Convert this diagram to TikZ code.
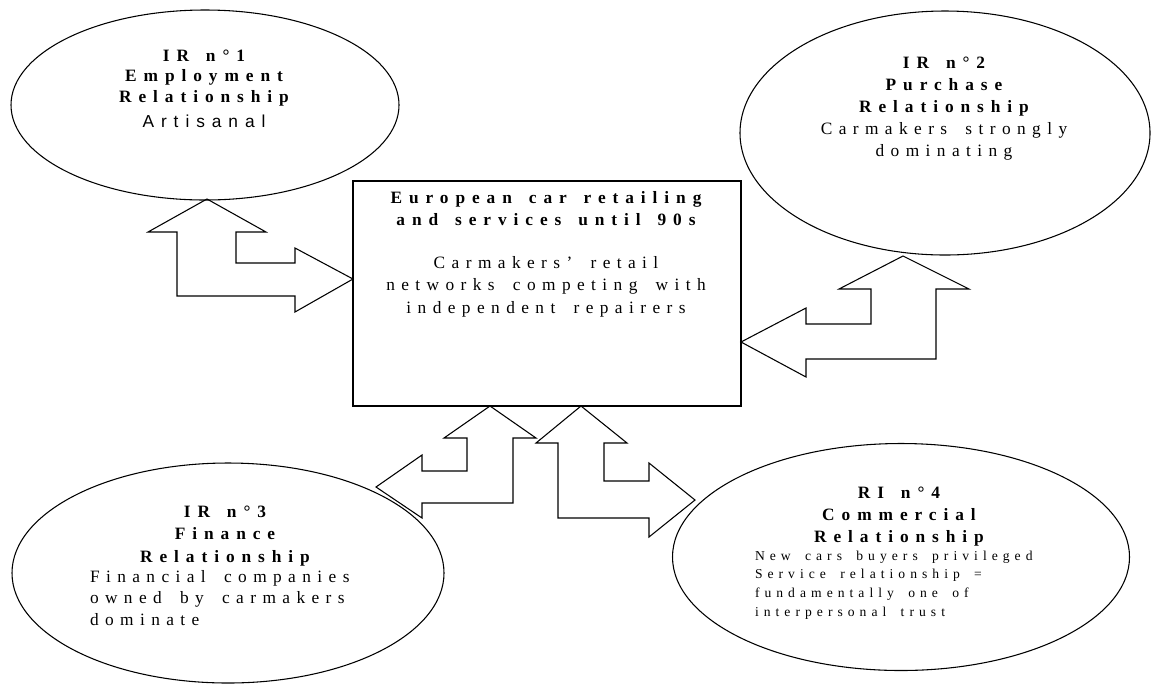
\documentclass[tikz,border=0pt]{standalone}
\usepackage{fontspec}
\setmainfont{Liberation Serif}
\newfontfamily\headfont[LetterSpace=40,WordSpace=1.5]{Liberation Serif}
\newfontfamily\bodyfont[LetterSpace=37,WordSpace=1.7]{Liberation Serif}
\newfontfamily\plainsans[LetterSpace=40]{Liberation Sans}
\usetikzlibrary{shapes.geometric}

\begin{document}
\begin{tikzpicture}[x=0.75pt,y=-0.75pt,line width=0.8pt,
  bubble/.style={ellipse,draw,inner sep=0pt,outer sep=0pt},
  hub/.style={rectangle,draw,inner sep=0pt,outer sep=0pt},
  blockarrow/.style={draw,line join=miter},
  txt/.style={inner sep=0pt,outer sep=0pt,anchor=north,align=center},
  txtl/.style={inner sep=0pt,outer sep=0pt,anchor=north west,align=left},
  hd/.style={font=\headfont\bfseries\fontsize{13}{16.5}\selectfont}]

\useasboundingbox (0,0) rectangle (1152,683);

% the four relationship bubbles and the central box
\node[bubble,minimum width=291pt,minimum height=142.5pt] (e1) at (205,105) {};
\node[bubble,minimum width=307.5pt,minimum height=183pt] (e2) at (945,133) {};
\node[bubble,minimum width=324pt,minimum height=165pt] (e3) at (228,573) {};
\node[bubble,minimum width=342.75pt,minimum height=170.25pt] (e4) at (901,557) {};
\node[hub,minimum width=291pt,minimum height=168.75pt] (hub) at (547,293.5) {};

% texts
\node[txt,font=\headfont\bfseries\fontsize{13}{15.4}\selectfont] (t1) at (204,49.5)
  {IR n°1\\Employment\\Relationship\\[3.4pt]{\plainsans\mdseries Artisanal}};

\node[txt,hd] (t2) at (944,56.5)
  {IR n°2\\Purchase\\Relationship\\{\bodyfont\mdseries Carmakers strongly}\\{\bodyfont\mdseries dominating}};

\node[txt,hd] (th) at (546,191.3)
  {European car retailing\\and services until 90s};
\node[txt,font=\bodyfont\fontsize{13}{16.9}\selectfont] (tb) at (546,256.2)
  {Carmakers’ retail\\networks competing with\\independent repairers};

\node[txt,font=\headfont\bfseries\fontsize{13}{16.9}\selectfont] (t3) at (225,505.5)
  {IR n°3\\Finance\\Relationship};
\node[txtl,font=\bodyfont\fontsize{13}{16.1}\selectfont] (b3) at (90,570.2)
  {Financial companies\\owned by carmakers\\dominate};

\node[txt,hd] (t4) at (899,486.5)
  {RI n°4\\Commercial\\Relationship};
\node[txtl,font=\bodyfont\fontsize{10.2}{14}\selectfont] (b4) at (755,550.7)
  {New cars buyers privileged\\Service relationship =\\fundamentally one of\\interpersonal trust};

% double-headed block arrows
\draw[blockarrow] (207,199) -- (266,232) -- (236,232) -- (236,263) -- (295,263)
  -- (295,248) -- (353,279) -- (295,312) -- (295,296) -- (177,296)
  -- (177,232) -- (148,232) -- cycle;

\draw[blockarrow] (741,342) -- (806,308) -- (806,324) -- (871,324) -- (871,289)
  -- (839,289) -- (903,256) -- (969,289) -- (936,289) -- (936,359)
  -- (806,359) -- (806,377) -- cycle;

\draw[blockarrow] (490,406) -- (536,438) -- (513,438) -- (513,503) -- (422,503)
  -- (422,518) -- (376,487) -- (422,455) -- (422,471) -- (467,471)
  -- (467,438) -- (444,438) -- cycle;

\draw[blockarrow] (581,406) -- (627,443) -- (604,443) -- (604,481) -- (649,481)
  -- (649,463) -- (695,500) -- (649,537) -- (649,518) -- (558,518)
  -- (558,443) -- (536,443) -- cycle;
\end{tikzpicture}
\end{document}
